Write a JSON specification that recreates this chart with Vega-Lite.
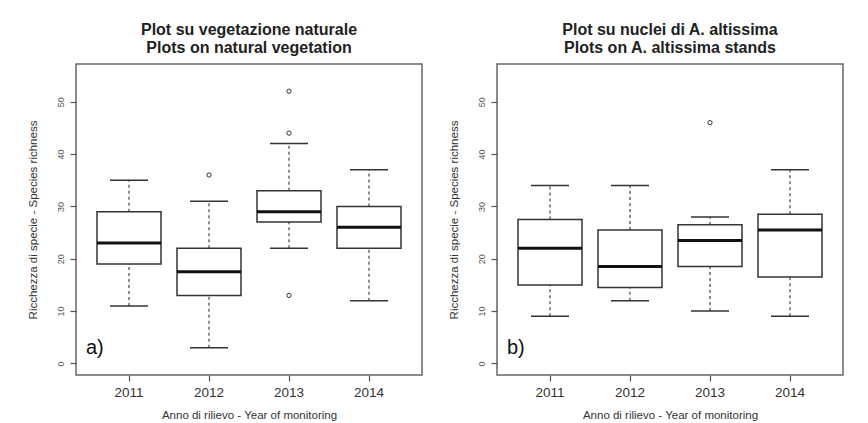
{
  "$schema": "https://vega.github.io/schema/vega-lite/v6.json",
  "padding": {"left": 26, "top": 21, "right": 5, "bottom": 0},
  "background": "white",
  "bounds": "flush",
  "spacing": 75,
  "config": {
    "font": "Liberation Sans",
    "view": {"stroke": "#666", "strokeWidth": 1.5},
    "axis": {"grid": false, "domain": false, "tickColor": "#555", "tickSize": 6, "tickWidth": 1.2, "labelFont": "Liberation Sans", "titleFont": "Liberation Sans", "titleFontWeight": "normal", "labelColor": "#333", "titleColor": "#333"},
    "title": {"fontSize": 16, "font": "Liberation Sans", "fontWeight": "bold", "color": "#222", "anchor": "middle", "lineHeight": 18, "offset": 8}
  },
  "datasets": {
    "boxes": [
      {"panel": "a", "year": "2011", "lower": 11, "q1": 19, "median": 23, "q3": 29, "upper": 35},
      {"panel": "a", "year": "2012", "lower": 3, "q1": 13, "median": 17.5, "q3": 22, "upper": 31},
      {"panel": "a", "year": "2013", "lower": 22, "q1": 27, "median": 29, "q3": 33, "upper": 42},
      {"panel": "a", "year": "2014", "lower": 12, "q1": 22, "median": 26, "q3": 30, "upper": 37},
      {"panel": "b", "year": "2011", "lower": 9, "q1": 15, "median": 22, "q3": 27.5, "upper": 34},
      {"panel": "b", "year": "2012", "lower": 12, "q1": 14.5, "median": 18.5, "q3": 25.5, "upper": 34},
      {"panel": "b", "year": "2013", "lower": 10, "q1": 18.5, "median": 23.5, "q3": 26.5, "upper": 28},
      {"panel": "b", "year": "2014", "lower": 9, "q1": 16.5, "median": 25.5, "q3": 28.5, "upper": 37}
    ],
    "outliers": [
      {"panel": "a", "year": "2012", "value": 36},
      {"panel": "a", "year": "2013", "value": 52},
      {"panel": "a", "year": "2013", "value": 44},
      {"panel": "a", "year": "2013", "value": 13},
      {"panel": "b", "year": "2013", "value": 46}
    ],
    "labels": [
      {"panel": "a", "year": "2011", "value": 3, "label": "a)"},
      {"panel": "b", "year": "2011", "value": 3, "label": "b)"}
    ]
  },
  "hconcat": [
    {
      "width": 346, "height": 311,
      "title": {"text": ["Plot  su vegetazione naturale", "Plots on natural vegetation"]},
      "encoding": {
        "x": {"field": "year", "type": "ordinal", "title": "Anno di rilievo - Year of monitoring",
          "scale": {"domain": ["2011", "2012", "2013", "2014"], "paddingInner": 0.2, "paddingOuter": 0.2625},
          "axis": {"labelAngle": 0, "labelFontSize": 13.5, "labelPadding": 4, "titleFontSize": 11.5, "titlePadding": 11}}
      },
      "layer": [
        {"data": {"name": "boxes"}, "transform": [{"filter": "datum.panel === 'a'"}],
          "mark": {"type": "rule", "strokeDash": [3, 3], "color": "#444", "strokeWidth": 1.2},
          "encoding": {"y": {"field": "lower", "type": "quantitative", "title": "Ricchezza di specie - Species richness",
            "scale": {"domain": [-2.2, 57.2], "nice": false, "zero": false},
            "axis": {"values": [0, 10, 20, 30, 40, 50], "labelAngle": -90, "labelFontSize": 9, "labelPadding": 5, "labelColor": "#555", "titleFontSize": 11.5, "titlePadding": 18}},
            "y2": {"field": "q1"}}},
        {"data": {"name": "boxes"}, "transform": [{"filter": "datum.panel === 'a'"}],
          "mark": {"type": "rule", "strokeDash": [3, 3], "color": "#444", "strokeWidth": 1.2},
          "encoding": {"y": {"field": "q3", "type": "quantitative", "title": "Ricchezza di specie - Species richness"}, "y2": {"field": "upper"}}},
        {"data": {"name": "boxes"}, "transform": [{"filter": "datum.panel === 'a'"}],
          "mark": {"type": "tick", "size": 38, "thickness": 1.5, "color": "#333", "opacity": 1},
          "encoding": {"y": {"field": "lower", "type": "quantitative", "title": "Ricchezza di specie - Species richness"}}},
        {"data": {"name": "boxes"}, "transform": [{"filter": "datum.panel === 'a'"}],
          "mark": {"type": "tick", "size": 38, "thickness": 1.5, "color": "#333", "opacity": 1},
          "encoding": {"y": {"field": "upper", "type": "quantitative", "title": "Ricchezza di specie - Species richness"}}},
        {"data": {"name": "boxes"}, "transform": [{"filter": "datum.panel === 'a'"}],
          "mark": {"type": "bar", "fill": "white", "stroke": "#333", "strokeWidth": 1.5},
          "encoding": {"y": {"field": "q1", "type": "quantitative", "title": "Ricchezza di specie - Species richness"}, "y2": {"field": "q3"}}},
        {"data": {"name": "boxes"}, "transform": [{"filter": "datum.panel === 'a'"}],
          "mark": {"type": "tick", "size": 64, "thickness": 3, "color": "#111", "opacity": 1},
          "encoding": {"y": {"field": "median", "type": "quantitative", "title": "Ricchezza di specie - Species richness"}}},
        {"data": {"name": "outliers"}, "transform": [{"filter": "datum.panel === 'a'"}],
          "mark": {"type": "point", "shape": "circle", "size": 18, "filled": false, "stroke": "#333", "strokeWidth": 1, "opacity": 1},
          "encoding": {"y": {"field": "value", "type": "quantitative", "title": "Ricchezza di specie - Species richness"}}},
        {"data": {"name": "labels"}, "transform": [{"filter": "datum.panel === 'a'"}],
          "mark": {"type": "text", "fontSize": 20, "align": "left", "baseline": "middle", "dx": -43, "color": "#111"},
          "encoding": {"y": {"field": "value", "type": "quantitative", "title": "Ricchezza di specie - Species richness"}, "text": {"field": "label"}}}
      ]
    },
    {
      "width": 346, "height": 311,
      "title": {"text": ["Plot su nuclei di A. altissima", "Plots on A. altissima stands"]},
      "encoding": {
        "x": {"field": "year", "type": "ordinal", "title": "Anno di rilievo - Year of monitoring",
          "scale": {"domain": ["2011", "2012", "2013", "2014"], "paddingInner": 0.2, "paddingOuter": 0.2625},
          "axis": {"labelAngle": 0, "labelFontSize": 13.5, "labelPadding": 4, "titleFontSize": 11.5, "titlePadding": 11}}
      },
      "layer": [
        {"data": {"name": "boxes"}, "transform": [{"filter": "datum.panel === 'b'"}],
          "mark": {"type": "rule", "strokeDash": [3, 3], "color": "#444", "strokeWidth": 1.2},
          "encoding": {"y": {"field": "lower", "type": "quantitative", "title": "Ricchezza di specie - Species richness",
            "scale": {"domain": [-2.2, 57.2], "nice": false, "zero": false},
            "axis": {"values": [0, 10, 20, 30, 40, 50], "labelAngle": -90, "labelFontSize": 9, "labelPadding": 5, "labelColor": "#555", "titleFontSize": 11.5, "titlePadding": 18}},
            "y2": {"field": "q1"}}},
        {"data": {"name": "boxes"}, "transform": [{"filter": "datum.panel === 'b'"}],
          "mark": {"type": "rule", "strokeDash": [3, 3], "color": "#444", "strokeWidth": 1.2},
          "encoding": {"y": {"field": "q3", "type": "quantitative", "title": "Ricchezza di specie - Species richness"}, "y2": {"field": "upper"}}},
        {"data": {"name": "boxes"}, "transform": [{"filter": "datum.panel === 'b'"}],
          "mark": {"type": "tick", "size": 38, "thickness": 1.5, "color": "#333", "opacity": 1},
          "encoding": {"y": {"field": "lower", "type": "quantitative", "title": "Ricchezza di specie - Species richness"}}},
        {"data": {"name": "boxes"}, "transform": [{"filter": "datum.panel === 'b'"}],
          "mark": {"type": "tick", "size": 38, "thickness": 1.5, "color": "#333", "opacity": 1},
          "encoding": {"y": {"field": "upper", "type": "quantitative", "title": "Ricchezza di specie - Species richness"}}},
        {"data": {"name": "boxes"}, "transform": [{"filter": "datum.panel === 'b'"}],
          "mark": {"type": "bar", "fill": "white", "stroke": "#333", "strokeWidth": 1.5},
          "encoding": {"y": {"field": "q1", "type": "quantitative", "title": "Ricchezza di specie - Species richness"}, "y2": {"field": "q3"}}},
        {"data": {"name": "boxes"}, "transform": [{"filter": "datum.panel === 'b'"}],
          "mark": {"type": "tick", "size": 64, "thickness": 3, "color": "#111", "opacity": 1},
          "encoding": {"y": {"field": "median", "type": "quantitative", "title": "Ricchezza di specie - Species richness"}}},
        {"data": {"name": "outliers"}, "transform": [{"filter": "datum.panel === 'b'"}],
          "mark": {"type": "point", "shape": "circle", "size": 18, "filled": false, "stroke": "#333", "strokeWidth": 1, "opacity": 1},
          "encoding": {"y": {"field": "value", "type": "quantitative", "title": "Ricchezza di specie - Species richness"}}},
        {"data": {"name": "labels"}, "transform": [{"filter": "datum.panel === 'b'"}],
          "mark": {"type": "text", "fontSize": 20, "align": "left", "baseline": "middle", "dx": -43, "color": "#111"},
          "encoding": {"y": {"field": "value", "type": "quantitative", "title": "Ricchezza di specie - Species richness"}, "text": {"field": "label"}}}
      ]
    }
  ]
}
